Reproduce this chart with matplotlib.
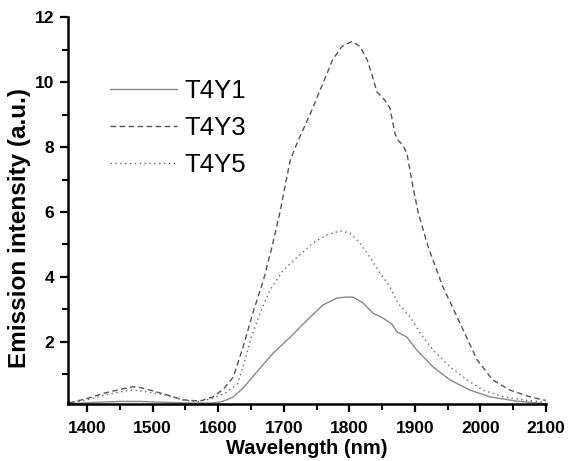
import matplotlib
matplotlib.use("Agg")
import matplotlib.pyplot as plt
from matplotlib.ticker import MultipleLocator

plt.rcParams['font.family'] = ['Liberation Sans', 'DejaVu Sans']

# T4Y1 (solid)
wl_y1 = [1372, 1400, 1450, 1480, 1520, 1560, 1590, 1603, 1613, 1623, 1638, 1659, 1684,
         1710, 1736, 1760, 1781, 1795, 1806, 1821, 1836, 1851, 1865, 1873, 1888, 1903,
         1928, 1954, 1984, 2015, 2055, 2100]
i_y1 = [0.10, 0.13, 0.17, 0.17, 0.14, 0.12, 0.12, 0.15, 0.22, 0.31, 0.58, 1.08, 1.66,
        2.15, 2.68, 3.14, 3.35, 3.38, 3.38, 3.20, 2.89, 2.74, 2.55, 2.31, 2.15, 1.75,
        1.23, 0.83, 0.52, 0.31, 0.18, 0.10]

# T4Y3 (dashed)
wl_y3 = [1372, 1400, 1425, 1455, 1470, 1480, 1496, 1522, 1546, 1572, 1592, 1608, 1623,
         1638, 1653, 1669, 1682, 1694, 1703, 1710, 1722, 1740, 1760, 1775, 1789, 1804,
         1816, 1827, 1835, 1842, 1854, 1862, 1870, 1875, 1882, 1888, 1897, 1905, 1920,
         1943, 1969, 1995, 2019, 2045, 2076, 2100]
i_y3 = [0.12, 0.26, 0.42, 0.56, 0.62, 0.60, 0.52, 0.37, 0.22, 0.18, 0.31, 0.55, 0.92,
        1.85, 2.90, 3.90, 4.92, 5.97, 6.90, 7.60, 8.20, 9.00, 9.97, 10.70, 11.10, 11.25,
        11.10, 10.70, 10.20, 9.70, 9.45, 9.20, 8.40, 8.20, 8.05, 7.80, 6.80, 6.00, 4.95,
        3.69, 2.58, 1.45, 0.83, 0.52, 0.31, 0.20]

# T4Y5 (dotted)
wl_y5 = [1372, 1400, 1425, 1455, 1470, 1490, 1510, 1530, 1550, 1570, 1590, 1610, 1629,
         1638, 1649, 1664, 1679, 1699, 1720, 1745, 1766, 1786, 1801, 1816, 1832, 1847,
         1862, 1874, 1893, 1908, 1928, 1954, 1980, 2004, 2035, 2065, 2100]
i_y5 = [0.12, 0.22, 0.36, 0.48, 0.52, 0.47, 0.40, 0.30, 0.20, 0.17, 0.25, 0.42, 0.70,
        1.23, 2.06, 2.89, 3.60, 4.20, 4.60, 5.05, 5.30, 5.42, 5.35, 5.05, 4.60, 4.12,
        3.70, 3.20, 2.77, 2.28, 1.75, 1.23, 0.83, 0.52, 0.31, 0.22, 0.14]

labels = ["T4Y1", "T4Y3", "T4Y5"]
xticks = [1400, 1500, 1600, 1700, 1800, 1900, 2000, 2100]
yticks = [2, 4, 6, 8, 10, 12]

fig = plt.figure(figsize=(5.68, 4.61), dpi=100)
ax = fig.add_axes([0.12, 0.1236, 0.841, 0.8394])

ax.plot(wl_y1, i_y1, color='#8a8a8a', lw=1.0, ls='-', label=labels[0])
ax.plot(wl_y3, i_y3, color='#555555', lw=1.0, ls=(0, (4, 2.5)), label=labels[1])
ax.plot(wl_y5, i_y5, color='#666666', lw=1.0, ls=(0, (1, 2.5)), label=labels[2])

ax.set_xlim(1371, 2100)
ax.set_ylim(0.09, 12)
ax.set_xticks(xticks)
ax.set_yticks(yticks)
ax.xaxis.set_minor_locator(MultipleLocator(50))
ax.yaxis.set_minor_locator(MultipleLocator(1))

for s in ['top', 'right']:
    ax.spines[s].set_visible(False)
for s in ['left', 'bottom']:
    ax.spines[s].set_linewidth(1.8)

ax.tick_params(which='major', direction='out', length=6, width=1.6, labelsize=12.5, pad=4)
ax.tick_params(which='minor', direction='out', length=4, width=1.4)
ax.tick_params(axis='x', pad=6)
for lab in ax.get_xticklabels() + ax.get_yticklabels():
    lab.set_fontweight('bold')

ax.set_xlabel("Wavelength (nm)", fontsize=14.5, fontweight='bold')
ax.set_ylabel("Emission intensity (a.u.)", fontsize=17.5, fontweight='bold')
ax.xaxis.set_label_coords(0.5, -0.09)
ax.yaxis.set_label_coords(-0.078, 0.455)

leg = ax.legend(loc='upper left', bbox_to_anchor=(0.194, 0.828), bbox_transform=fig.transFigure,
                frameon=False, fontsize=18.5, handlelength=2.6, handletextpad=0.3,
                labelspacing=0.5, borderpad=0, borderaxespad=0)

fig.savefig("out.png", dpi=100)
